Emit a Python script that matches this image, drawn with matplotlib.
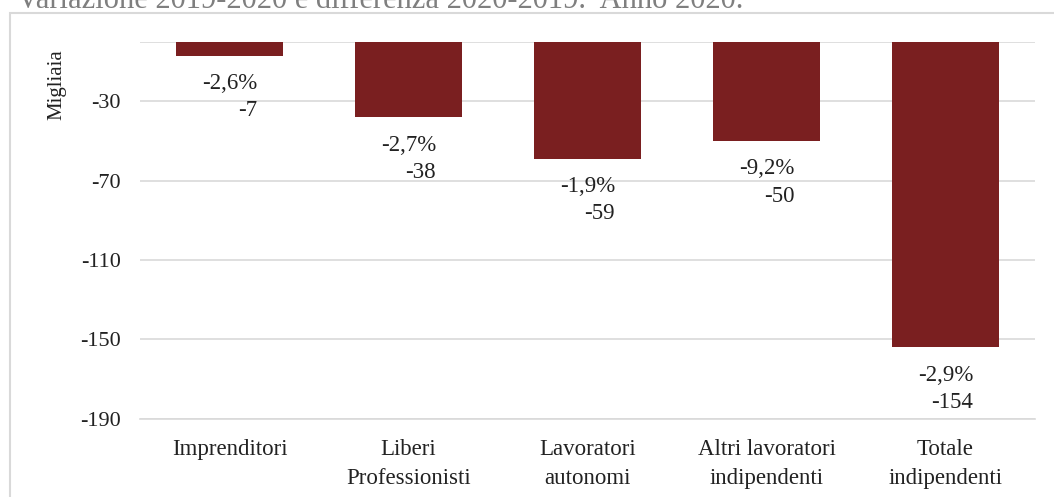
import matplotlib.pyplot as plt
from matplotlib.patches import Rectangle

# dati (migliaia)
categories = ["Imprenditori", "Liberi\nProfessionisti", "Lavoratori\nautonomi",
              "Altri lavoratori\nindipendenti", "Totale\nindipendenti"]
differenze = [-7, -38, -59, -50, -154]
variazioni = ["-2,6%", "-2,7%", "-1,9%", "-9,2%", "-2,9%"]
y_ticks = [-190, -150, -110, -70, -30]

plt.rcParams['font.family'] = ['Liberation Serif', 'DejaVu Serif']

W, H = 1054, 497
fig = plt.figure(figsize=(W / 100, H / 100), dpi=100)
ax = fig.add_axes([140 / W, 1 - 418.5 / H, (1035 - 140) / W, (418.5 - 42) / H])

x = range(len(categories))
ax.bar(x, differenze, width=0.6, color='#7A1F20', zorder=3)

for i, (v, p) in enumerate(zip(differenze, variazioni)):
    ax.annotate(f"{p}\n{v}", xy=(i, v), xytext=(0, -12.5), textcoords='offset points',
                ha='center', va='top', multialignment='right', fontsize=16.5,
                color='#222222', linespacing=1.38)

ax.set_ylim(-190, 0)
ax.set_xlim(-0.5, len(categories) - 0.5)
ax.set_yticks(y_ticks + [0])
ax.set_yticklabels([str(t) for t in y_ticks] + [""])
ax.set_xticks(list(x))
ax.set_xticklabels(categories, fontsize=16.5, linespacing=1.45)
ax.tick_params(axis='y', length=0, pad=14, labelsize=16, colors='#222222')
ax.tick_params(axis='x', length=0, pad=15, colors='#222222')
ax.grid(axis='y', color='#d9d9d9', linewidth=1.2, zorder=0)
for s in ['left', 'right', 'top']:
    ax.spines[s].set_visible(False)
ax.spines['bottom'].set_color('#d9d9d9')
ax.spines['bottom'].set_linewidth(1.2)

fig.text(57 / W, 1 - 85 / H, "Migliaia", rotation=90, ha='center', va='center',
         fontsize=15, color='#222222')

# titolo (tagliato in alto come nell'originale)
fig.text(17 / W, 1 - 7.5 / H, "Variazione 2019-2020 e differenza 2020-2019.  Anno 2020.",
         ha='left', va='baseline', fontsize=22, color='#7f7f7f')

# cornice del grafico
fig.add_artist(Rectangle((10 / W, -0.1), 1.2, 1.1 - 13 / H, transform=fig.transFigure,
                         fill=False, edgecolor='#d9d9d9', linewidth=1.5))

fig.savefig("out.png", dpi=100)
